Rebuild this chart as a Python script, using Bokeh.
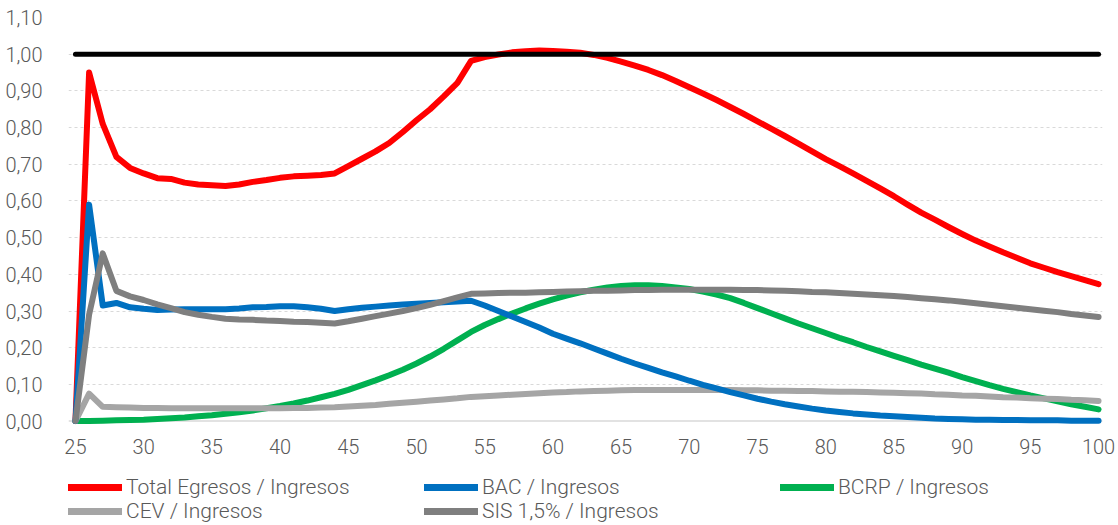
from bokeh.plotting import figure
from bokeh.models import Range1d, FixedTicker, Legend, LegendItem
from bokeh.layouts import column
from bokeh.embed import file_html
from bokeh.resources import INLINE

ages = list(range(25, 101))

total = [0.00, 0.95, 0.81, 0.72, 0.69, 0.675, 0.662, 0.66, 0.65, 0.645,
         0.643, 0.641, 0.645, 0.652, 0.657, 0.663, 0.667, 0.669, 0.671, 0.675,
         0.695, 0.715, 0.735, 0.758, 0.788, 0.82, 0.85, 0.885, 0.922, 0.982,
         0.992, 0.999, 1.005, 1.008, 1.01, 1.009, 1.007, 1.004, 0.998, 0.99,
         0.98, 0.969, 0.957, 0.943, 0.927, 0.91, 0.893, 0.875, 0.856, 0.837,
         0.817, 0.797, 0.777, 0.756, 0.735, 0.714, 0.695, 0.675, 0.655, 0.634,
         0.613, 0.59, 0.568, 0.549, 0.529, 0.51, 0.492, 0.476, 0.46, 0.445,
         0.43, 0.418, 0.406, 0.395, 0.384, 0.373]

bac = [0.00, 0.59, 0.315, 0.322, 0.31, 0.306, 0.303, 0.304, 0.305, 0.305,
       0.305, 0.305, 0.307, 0.31, 0.311, 0.313, 0.313, 0.31, 0.306, 0.30,
       0.305, 0.309, 0.312, 0.315, 0.318, 0.32, 0.322, 0.324, 0.326, 0.328,
       0.315, 0.30, 0.285, 0.27, 0.255, 0.238, 0.225, 0.212, 0.198, 0.184,
       0.17, 0.157, 0.145, 0.133, 0.122, 0.11, 0.099, 0.089, 0.079, 0.07,
       0.061, 0.053, 0.046, 0.04, 0.034, 0.029, 0.025, 0.021, 0.018, 0.015,
       0.013, 0.011, 0.009, 0.007, 0.006, 0.005, 0.004, 0.004, 0.003, 0.003,
       0.002, 0.002, 0.002, 0.001, 0.001, 0.001]

bcrp = [0.00, 0.00, 0.001, 0.002, 0.003, 0.004, 0.006, 0.008, 0.01, 0.013,
        0.016, 0.02, 0.024, 0.029, 0.035, 0.041, 0.048, 0.056, 0.065, 0.074,
        0.085, 0.098, 0.111, 0.125, 0.14, 0.157, 0.176, 0.197, 0.22, 0.243,
        0.262, 0.278, 0.293, 0.307, 0.32, 0.332, 0.342, 0.351, 0.358, 0.364,
        0.368, 0.37, 0.37, 0.368, 0.364, 0.36, 0.353, 0.345, 0.335, 0.322,
        0.308, 0.294, 0.28, 0.266, 0.253, 0.24, 0.227, 0.215, 0.202, 0.19,
        0.178, 0.166, 0.154, 0.143, 0.132, 0.12, 0.109, 0.098, 0.088, 0.079,
        0.07, 0.062, 0.054, 0.046, 0.039, 0.032]

cev = [0.00, 0.075, 0.039, 0.038, 0.037, 0.036, 0.036, 0.035, 0.035, 0.035,
       0.035, 0.035, 0.035, 0.035, 0.035, 0.035, 0.036, 0.036, 0.037, 0.038,
       0.04, 0.042, 0.044, 0.047, 0.05, 0.053, 0.056, 0.059, 0.062, 0.066,
       0.068, 0.07, 0.072, 0.074, 0.076, 0.078, 0.079, 0.081, 0.082, 0.083,
       0.084, 0.085, 0.085, 0.085, 0.085, 0.085, 0.085, 0.085, 0.085, 0.084,
       0.084, 0.083, 0.083, 0.082, 0.082, 0.081, 0.08, 0.08, 0.079, 0.078,
       0.077, 0.076, 0.075, 0.073, 0.072, 0.07, 0.069, 0.067, 0.065, 0.064,
       0.062, 0.061, 0.06, 0.058, 0.057, 0.055]

sis = [0.00, 0.29, 0.457, 0.355, 0.34, 0.33, 0.318, 0.308, 0.297, 0.29,
       0.284, 0.279, 0.277, 0.276, 0.274, 0.273, 0.271, 0.27, 0.268, 0.266,
       0.272, 0.279, 0.286, 0.293, 0.30, 0.308, 0.317, 0.327, 0.337, 0.347,
       0.348, 0.349, 0.35, 0.35, 0.351, 0.352, 0.353, 0.354, 0.355, 0.355,
       0.356, 0.357, 0.357, 0.358, 0.358, 0.358, 0.358, 0.358, 0.358, 0.357,
       0.357, 0.356, 0.355, 0.354, 0.352, 0.351, 0.349, 0.347, 0.345, 0.343,
       0.341, 0.338, 0.335, 0.332, 0.329, 0.325, 0.321, 0.317, 0.313, 0.309,
       0.305, 0.301, 0.297, 0.292, 0.288, 0.284]

ref_x = [25, 100]
ref_y = [1.0, 1.0]

x_ticks = list(range(25, 101, 5))
y_ticks = [0.0, 0.1, 0.2, 0.3, 0.4, 0.5, 0.6, 0.7, 0.8, 0.9, 1.0, 1.1]
y_labels = ["0,00", "0,10", "0,20", "0,30", "0,40", "0,50", "0,60", "0,70",
            "0,80", "0,90", "1,00", "1,10"]

names = ["Total Egresos / Ingresos", "BAC / Ingresos", "BCRP / Ingresos",
         "CEV / Ingresos", "SIS 1,5% / Ingresos"]
values = [total, bac, bcrp, cev, sis]
colors = ["#FF0000", "#0070C0", "#00B050", "#A5A5A5", "#7F7F7F"]
draw_order = [0, 2, 3, 1, 4]

FONT = "Roboto Light, Roboto"
TXT = "#595959"

# ---------------- main chart ----------------
p = figure(width=1118, height=458, output_backend="svg", toolbar_location=None,
           x_range=Range1d(24.49, 100.29), y_range=Range1d(-0.012, 1.10),
           min_border_left=68, min_border_right=16, min_border_top=17,
           min_border_bottom=33)
p.outline_line_color = None
p.background_fill_color = "white"
p.border_fill_color = "white"

p.xgrid.grid_line_color = None
p.ygrid.grid_line_color = "#D9D9D9"
p.ygrid.grid_line_dash = "3 3"
p.ygrid.grid_line_width = 1
p.ygrid.ticker = FixedTicker(ticks=y_ticks[1:])

p.yaxis.ticker = FixedTicker(ticks=y_ticks)
p.yaxis.major_label_overrides = {t: l for t, l in zip(y_ticks, y_labels)}
p.yaxis.axis_line_color = None
p.yaxis.major_tick_line_color = None
p.yaxis.minor_tick_line_color = None
p.yaxis.major_label_standoff = 20
p.yaxis.major_label_text_font = FONT
p.yaxis.major_label_text_font_size = "20px"
p.yaxis.major_label_text_color = TXT

p.xaxis.ticker = FixedTicker(ticks=x_ticks)
p.xaxis.axis_line_color = None
p.xaxis.major_tick_line_color = None
p.xaxis.minor_tick_line_color = None
p.xaxis.major_label_standoff = 7
p.xaxis.major_label_text_font = FONT
p.xaxis.major_label_text_font_size = "20px"
p.xaxis.major_label_text_color = TXT

# zero baseline
p.line(x=[24.49, 100.29], y=[0, 0], line_color="#D9D9D9", line_width=1.5)

for i in draw_order:
    p.line(x=ages, y=values[i], line_color=colors[i], line_width=6,
           line_cap="round", line_join="round")

p.line(x=ref_x, y=ref_y, line_color="#000000", line_width=5, line_cap="round")

# ---------------- legend strip (frame aligned with the chart's frame) ----------------
lg = figure(width=1118, height=67, output_backend="svg", toolbar_location=None,
            x_range=Range1d(24.49, 100.29), y_range=Range1d(5, 6),
            x_axis_location=None, y_axis_location=None,
            min_border_left=68, min_border_right=16, min_border_top=0,
            min_border_bottom=0)
lg.outline_line_color = None
lg.xgrid.grid_line_color = None
lg.ygrid.grid_line_color = None

items = []
for i in range(5):
    # same series, out of this strip's visible range: only the legend key shows
    r = lg.line(x=ages, y=values[i], line_color=colors[i], line_width=7,
                line_cap="round")
    items.append(LegendItem(label=names[i], renderers=[r]))

legend = Legend(items=items, location=(0, 2), orientation="horizontal", ncols=3,
                margin=0, padding=0, spacing=0,
                glyph_width=54, glyph_height=20, label_height=20,
                label_standoff=4, label_width=298,
                label_text_font=FONT, label_text_font_size="21px",
                label_text_line_height=1.0,
                label_text_color=TXT, border_line_color=None,
                background_fill_alpha=0)
lg.add_layout(legend, "center")

layout = column(p, lg, spacing=0)
open("out.html", "w").write(file_html(layout, INLINE))
